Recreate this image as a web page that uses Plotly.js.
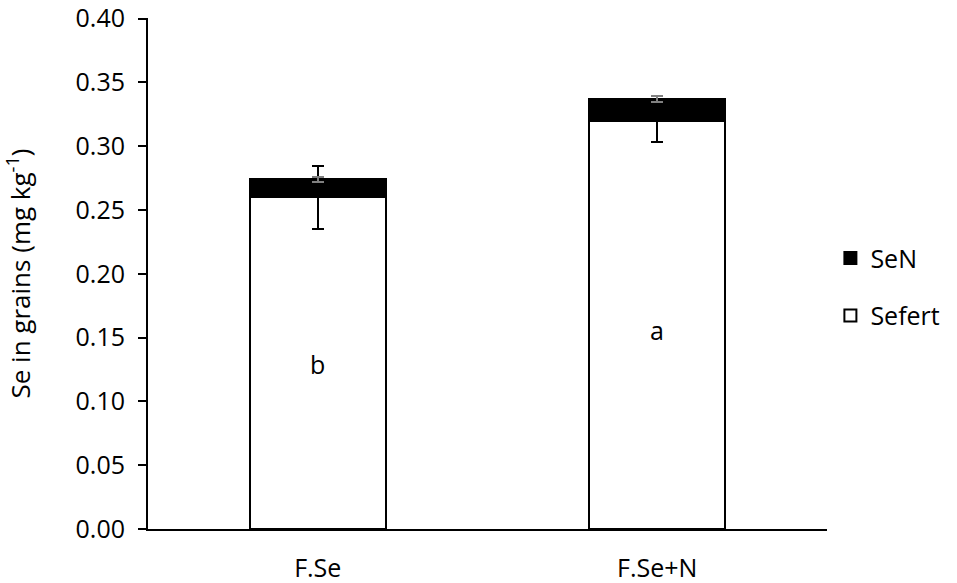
<!DOCTYPE html>
<html>
<head>
<meta charset="utf-8">
<script src="https://cdn.plot.ly/plotly-3.0.1.min.js"></script>
<style>
  html, body { margin: 0; padding: 0; background: #fff; }
  #chart { width: 957px; height: 583px; }
</style>
</head>
<body>
<div id="chart"></div>
<script>
const treatments = ['F.Se', 'F.Se+N'];
const sefert = [0.260, 0.320];
const sefertErr = [0.0245, 0.017];
const seN = [0.014, 0.017];
const seNErr = [0.0018, 0.002];
const letters = ['b', 'a'];
const letterY = [0.129, 0.156];
const yTicks = [0, 0.05, 0.10, 0.15, 0.20, 0.25, 0.30, 0.35, 0.40];

const font = { family: 'Open Sans, Arial, sans-serif', size: 25, color: '#000' };

const traceSefert = {
  x: treatments,
  y: sefert,
  type: 'bar',
  name: 'Sefert',
  legendgroup: 'g1',
  legendrank: 2,
  width: 0.4,
  marker: { color: '#fff', line: { color: '#000', width: 2 } },
  error_y: { type: 'data', array: sefertErr, visible: true, color: '#000', thickness: 2, width: 6 }
};

const traceSeN = {
  x: treatments,
  y: seN,
  type: 'bar',
  name: 'SeN',
  legendgroup: 'g2',
  legendrank: 1,
  width: 0.4,
  marker: { color: '#000', line: { color: '#000', width: 2 } },
  error_y: { type: 'data', array: seNErr, visible: true, color: '#808080', thickness: 2, width: 6 }
};

const annotations = treatments.map((t, i) => ({
  x: t,
  y: letterY[i],
  text: letters[i],
  showarrow: false,
  font: font
}));

const layout = {
  width: 957,
  height: 583,
  margin: { l: 148, r: 117, t: 18, b: 54 },
  paper_bgcolor: '#fff',
  plot_bgcolor: '#fff',
  font: font,
  barmode: 'stack',
  showlegend: true,
  legend: {
    x: 1.005,
    xanchor: 'left',
    y: 0.575,
    yanchor: 'top',
    traceorder: 'grouped',
    tracegroupgap: 22,
    font: font,
    itemwidth: 30
  },
  xaxis: {
    showline: true,
    linecolor: '#000',
    linewidth: 2,
    ticks: '',
    showgrid: false,
    zeroline: false,
    tickfont: font,
    ticklabelstandoff: 16
  },
  yaxis: {
    range: [0, 0.4005],
    tickmode: 'array',
    tickvals: yTicks,
    ticktext: yTicks.map(v => v.toFixed(2)),
    ticklabeloverflow: 'allow',
    showline: true,
    linecolor: '#000',
    linewidth: 2,
    ticks: 'outside',
    ticklen: 8,
    tickwidth: 2,
    tickcolor: '#000',
    showgrid: false,
    zeroline: false,
    tickfont: font,
    ticklabelstandoff: 8,
    title: { text: 'Se in grains (mg kg<sup>-1</sup>)', font: { family: font.family, size: 26, color: '#000' }, standoff: 40 }
  },
  annotations: annotations
};

Plotly.newPlot('chart', [traceSefert, traceSeN], layout, { displayModeBar: false, staticPlot: true });
</script>
</body>
</html>
